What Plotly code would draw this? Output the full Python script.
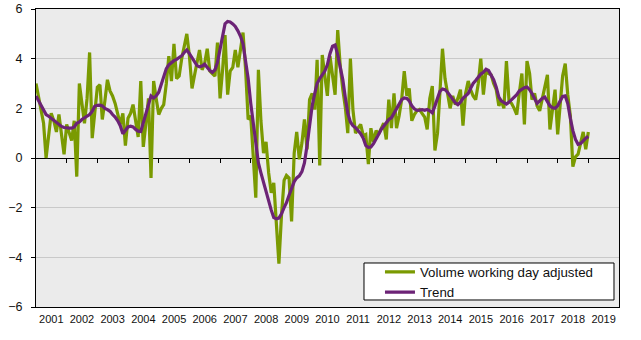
import pandas as pd
import plotly.graph_objects as go

# ---- data (monthly, Jan 2001 .. Jan 2019) ----
volume_wda = [
    3.0, 2.4, 1.9, 1.4, 0.0, 0.9, 1.8, 1.5, 1.05, 1.75, 1.0, 0.15,
    1.35, 0.95, 0.7, 1.5, -0.75, 3.0, 2.2, 1.4, 2.4, 4.25, 0.8, 1.9,
    2.85, 2.95, 1.55, 2.3, 3.15, 2.7, 2.5, 2.2, 1.8, 1.35, 1.8, 0.5,
    1.6, 1.8, 2.15, 1.5, 0.85, 3.1, 0.45, 1.4, 2.4, -0.8, 3.1, 2.4,
    1.75, 2.0, 2.15, 3.0, 4.1, 3.1, 4.6, 3.2, 3.3, 4.0, 4.5, 5.0,
    4.1, 2.8, 3.3, 3.9, 4.35, 3.55, 3.8, 4.4, 3.5, 3.4, 3.3, 4.65,
    2.4, 3.6, 4.95, 2.55, 3.5, 3.65, 4.35, 3.65, 4.35, 5.05, 3.55, 1.55,
    1.7, 0.2, -1.6, 3.55, 1.5, 0.2, 0.65, -0.6, -1.4, -1.0, -2.6, -4.25,
    -2.3, -0.9, -0.7, -0.8, -2.55, 0.2, 1.05, -0.05, 0.6, 1.55, 0.35, 2.35,
    2.6, 1.95, 3.95, -0.3, 4.15, 3.2, 2.5, 4.1, 3.3, 2.55, 5.15, 3.7,
    2.75, 2.0, 1.0, 4.0, 1.95, 1.0, 1.2, 1.35, 0.9, 0.95, -0.25, 1.2,
    0.65, 1.1, 0.95, 1.2, 1.4, 0.75, 2.35, 1.2, 2.6, 1.2, 1.7, 2.35,
    3.5, 2.5, 2.8, 1.5, 1.75, 1.9, 1.95, 1.8, 1.65, 1.15, 2.4, 2.9,
    0.3, 1.0, 2.9, 4.4, 3.2, 2.6, 2.0, 2.5, 2.15, 2.4, 2.75, 1.3,
    2.6, 3.1, 2.75, 2.5, 2.35, 3.0, 4.0, 2.55, 3.55, 3.4, 3.35, 3.0,
    2.75, 2.1, 2.3, 2.0, 3.9, 2.3, 2.2, 2.0, 1.75, 2.6, 3.4, 1.35,
    3.9, 3.4, 2.35, 2.6, 2.1, 1.9, 2.4, 2.9, 3.35, 1.15, 2.0, 2.75,
    0.95, 2.3, 3.3, 3.8, 2.55, 1.7, -0.35, 0.05, 0.15, 0.6, 1.05, 0.35,
    1.05,
]

trend = [
    2.5, 2.3, 2.1, 1.95, 1.75, 1.68, 1.6, 1.5, 1.4, 1.33, 1.27, 1.23,
    1.2, 1.2, 1.2, 1.25, 1.4, 1.45, 1.55, 1.62, 1.7, 1.75, 1.88, 2.08,
    2.12, 2.13, 2.1, 2.0, 1.95, 1.88, 1.75, 1.65, 1.5, 1.3, 0.98, 1.1,
    1.25, 1.28, 1.25, 1.15, 1.08, 1.07, 1.4, 1.8, 2.15, 2.5, 2.42, 2.5,
    2.65, 2.95, 3.3, 3.6, 3.75, 3.85, 3.92, 3.97, 4.05, 4.12, 4.25, 4.35,
    4.2, 4.05, 3.88, 3.72, 3.67, 3.7, 3.78, 3.65, 3.52, 3.45, 3.55, 3.85,
    4.4, 5.05, 5.4, 5.5, 5.48, 5.4, 5.3, 5.12, 4.9, 4.6, 3.96, 3.2,
    2.2, 1.3, 0.45, -0.2, -0.6, -1.0, -1.35, -1.7, -2.1, -2.4, -2.45, -2.42,
    -2.25, -2.0, -1.8, -1.5, -1.25, -0.95, -0.8, -0.72, -0.55, -0.2, 0.5, 1.35,
    2.1, 2.6, 3.0, 3.2, 3.35, 3.5, 3.75, 4.2, 4.5, 4.55, 4.15, 3.7,
    3.15, 2.4, 1.8, 1.45, 1.3, 1.22, 1.1, 0.98, 0.8, 0.5, 0.43, 0.44,
    0.58, 0.75, 0.95, 1.15, 1.3, 1.45, 1.55, 1.62, 1.8, 2.0, 2.15, 2.35,
    2.42, 2.4, 2.3, 2.1, 1.98, 1.92, 1.93, 1.95, 1.92, 1.95, 1.9, 1.82,
    2.1, 2.45, 2.68, 2.78, 2.75, 2.65, 2.5, 2.35, 2.22, 2.15, 2.25, 2.4,
    2.5, 2.6, 2.8, 3.0, 3.12, 3.28, 3.38, 3.45, 3.57, 3.52, 3.35, 3.15,
    2.85, 2.45, 2.3, 2.22, 2.17, 2.25, 2.35, 2.45, 2.55, 2.7, 2.78, 2.83,
    2.86, 2.75, 2.6, 2.38, 2.2, 2.3, 2.4, 2.45, 2.3, 2.1, 2.02, 2.0,
    2.1, 2.3, 2.48, 2.5, 2.2, 1.6, 1.1, 0.75, 0.55, 0.58, 0.7, 0.8,
    0.87,
]

year_labels = [str(y) for y in range(2001, 2020)]
series_names = ["Volume working day adjusted", "Trend"]
y_ticks = [-6, -4, -2, 0, 2, 4, 6]

dates = pd.date_range("2001-01-01", periods=len(volume_wda), freq="MS")

GREEN = "#7a9a01"
PURPLE = "#6c2376"
FONT = "Liberation Sans, Arial, sans-serif"

fig = go.Figure()
fig.add_trace(go.Scatter(x=dates, y=volume_wda, mode="lines", name=series_names[0],
                         line=dict(color=GREEN, width=3.2)))
fig.add_trace(go.Scatter(x=dates, y=trend, mode="lines", name=series_names[1],
                         line=dict(color=PURPLE, width=3.2)))
# helper trace so the zero-level axis (x2) gets drawn
fig.add_trace(go.Scatter(x=[dates[0]], y=[None], xaxis="x2", showlegend=False,
                         hoverinfo="skip"))

x_start = f"{year_labels[0]}-01-01"
x_end = f"{int(year_labels[-1]) + 1}-01-01"
mid_year = [f"{y}-07-02" for y in year_labels]
year_bounds = [f"{y}-01-01" for y in year_labels[1:]]

fig.update_layout(
    width=641, height=340,
    margin=dict(l=36, r=22, t=9, b=33, autoexpand=False),
    paper_bgcolor="white",
    plot_bgcolor="#ebebeb",
    font=dict(family=FONT, size=12, color="#111111"),
    showlegend=True,
    legend=dict(x=0.590, y=0.169, xanchor="left", yanchor="top",
                bgcolor="rgba(0,0,0,0)", borderwidth=0,
                font=dict(family=FONT, size=13.3, color="#111111"),
                tracegroupgap=0, itemwidth=30),
    xaxis=dict(range=[x_start, x_end], tickmode="array", tickvals=mid_year,
               ticktext=year_labels, ticks="", showgrid=False, zeroline=False,
               showline=True, linecolor="black", linewidth=1, mirror=True,
               tickfont=dict(size=11), ticklabelstandoff=2, automargin=False),
    xaxis2=dict(overlaying="x", matches="x", anchor="free", position=0.5,
                tickmode="array", tickvals=year_bounds, ticks="outside",
                ticklen=4, tickcolor="black", showticklabels=False,
                showgrid=False, zeroline=False, showline=True,
                linecolor="black", linewidth=1, layer="below traces",
                automargin=False),
    yaxis=dict(range=[-6, 6], tickmode="array", tickvals=y_ticks,
               ticks="outside", ticklen=4, tickcolor="black",
               showgrid=True, gridcolor="#c9c9c9", gridwidth=1,
               zeroline=False, showline=True, linecolor="black", linewidth=1,
               mirror=True, tickfont=dict(size=12.5), ticklabelstandoff=6,
               automargin=False),
    shapes=[dict(type="rect", xref="paper", yref="paper",
                 x0=0.5626, x1=0.9914, y0=0.0235, y1=0.1477,
                 fillcolor="white", line=dict(color="black", width=1),
                 layer="above")],
)

fig.write_html("out.html")
